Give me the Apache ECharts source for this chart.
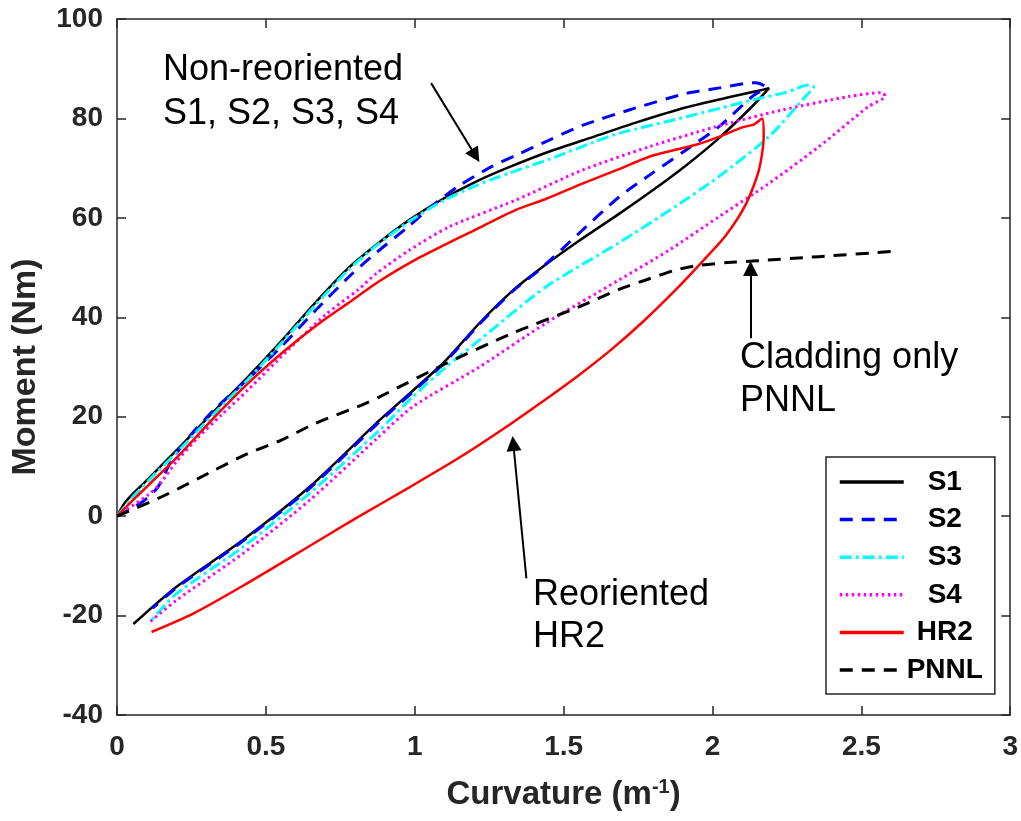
<!DOCTYPE html>
<html>
<head>
<meta charset="utf-8">
<script src="https://cdn.jsdelivr.net/npm/echarts@6/dist/echarts.min.js"></script>
<style>
  html, body { margin: 0; padding: 0; background: #fff; }
  #chart { width: 1021px; height: 821px; }
</style>
</head>
<body>
<div id="chart"></div>
<script>
// Moment–curvature loops: curvature (1/m), moment (N·m)
const seriesNames = ['S1', 'S2', 'S3', 'S4', 'HR2', 'PNNL'];

const s1 = [
  [0,0],[0.03,3],[0.105,7.5],[0.217,14.3],[0.329,21.3],[0.44,28],[0.552,35.2],[0.664,42.8],[0.775,49.8],
  [0.871,54.6],[0.982,59.6],[1.094,63.8],[1.206,67.3],[1.317,70.2],[1.45,73.3],[1.6,76.3],[1.75,79.3],
  [1.91,82.2],[2.066,84.4],[2.15,85.5],[2.19,86.1],
  [2.133,82.4],[2.021,76.0],[1.91,70.5],[1.798,65.5],[1.686,60.8],[1.552,55.4],[1.44,50.6],[1.328,45.3],
  [1.217,38.8],[1.094,30.7],[0.882,19.3],[0.647,5.9],[0.423,-4.8],[0.2,-14.2],[0.055,-21.7]
];

const s2 = [
  [0,0],[0.088,3],[0.138,5.9],[0.183,11.2],[0.25,16.5],[0.33,21.6],[0.44,27.6],[0.552,34.1],[0.664,41.2],
  [0.787,48.6],[0.871,53],[0.982,58.4],[1.06,62.5],[1.15,66.5],[1.261,70.4],[1.34,72.6],[1.45,75.6],
  [1.563,78.6],[1.72,81.7],[1.91,85.0],[2.01,86.0],[2.144,87.2],[2.178,86.3],
  [2.133,84.4],[2.021,78.3],[1.91,73.6],[1.798,69.0],[1.686,64.2],[1.552,56.9],[1.418,49.5],[1.328,45.2],
  [1.217,38.6],[1.094,30.5],[0.882,19.0],[0.647,5.6],[0.423,-5.0],[0.2,-14.4],[0.12,-18.5]
];

const s3 = [
  [0,0],[0.05,3.6],[0.105,7.1],[0.217,13.8],[0.329,20.8],[0.44,27.5],[0.552,34.8],[0.664,42.3],[0.775,49.4],
  [0.871,54.4],[0.982,59.3],[1.094,63.4],[1.206,66.5],[1.317,69.0],[1.452,71.8],[1.6,75.2],[1.686,77.0],
  [1.91,80.3],[2.133,83.7],[2.25,85.3],[2.323,86.7],[2.34,86.4],
  [2.312,84.4],[2.189,76.3],[2.021,68.3],[1.876,62.3],[1.686,55.0],[1.44,46.1],[1.217,35.4],[1.105,30.0],
  [0.993,24.0],[0.882,17.3],[0.647,4.6],[0.423,-6.2],[0.2,-15.6],[0.11,-21.3]
];

const s4 = [
  [0,0],[0.105,4.3],[0.14,6.2],[0.2,11.0],[0.272,15.8],[0.35,20.3],[0.44,25.4],[0.574,33.4],[0.7,40.5],
  [0.809,45.5],[0.871,48.8],[0.982,53.5],[1.116,58.2],[1.34,63.6],[1.563,69.6],[1.787,74.3],[2.01,78.3],
  [2.234,81.7],[2.457,84.4],[2.569,85.2],[2.58,84.5],
  [2.524,82.4],[2.357,74.3],[2.189,66.9],[2.021,60.2],[1.854,53.5],[1.686,47.5],[1.44,38.8],[1.217,30.0],
  [0.993,22.0],[0.871,15.5],[0.647,3.2],[0.423,-7.5],[0.2,-16.9],[0.11,-21.3]
];

const hr2 = [
  [0,0],[0.05,3.0],[0.105,6.2],[0.217,12.8],[0.329,20.0],[0.44,26.7],[0.552,32.7],[0.664,38.1],[0.775,42.8],
  [0.882,47.3],[1.0,51.5],[1.105,54.7],[1.2,57.5],[1.34,61.6],[1.44,63.8],[1.563,66.9],[1.686,69.8],
  [1.787,72.3],[1.87,73.6],[1.95,74.8],[2.021,76.3],[2.1,78.2],[2.14,78.8],[2.167,80.0],
  [2.172,76.3],[2.155,69.4],[2.111,62.6],[2.044,56.4],[1.966,51.2],[1.876,45.5],[1.77,39.3],[1.664,33.7],
  [1.55,28.3],[1.44,23.5],[1.328,18.8],[1.161,12.2],[0.982,5.8],[0.8,-0.5],[0.647,-6.0],[0.423,-14.0],
  [0.256,-19.6],[0.116,-23.3]
];

const pnnl = [
  [0,0],[0.161,4.2],[0.329,9.3],[0.44,12.6],[0.552,15.3],[0.664,18.6],[0.82,22.3],[0.882,24.0],[1.105,30.7],
  [1.328,36.8],[1.552,42.1],[1.686,45.6],[1.776,47.5],[1.876,49.5],[1.95,50.4],[2.05,51.0],[2.133,51.3],
  [2.357,52.2],[2.62,53.3]
];

// annotation arrows: [tail, head] in curvature/moment units
const arrows = [
  [[1.055, 87.1], [1.204, 72.5]],
  [[2.128, 35.8], [2.128, 49.8]],
  [[1.375, -12.5], [1.331, 14.6]]
];

const xTicks = { min: 0, max: 3, interval: 0.5 };
const yTicks = { min: -40, max: 100, interval: 20 };

const axisColor = '#262626';
const labelFont = { fontFamily: 'Liberation Sans, Arial, sans-serif', fontWeight: 'bold', fontSize: 28, color: axisColor };

function lineSeries(name, data, color, type, width) {
  return {
    name: name,
    type: 'line',
    data: data,
    xAxisIndex: 0,
    yAxisIndex: 0,
    symbol: 'none',
    showSymbol: false,
    smooth: 0.25,
    lineStyle: { color: color, width: width, type: type },
    itemStyle: { color: color },
    z: 3
  };
}

const chart = echarts.init(document.getElementById('chart'), null, { renderer: 'canvas' });

const frameAxis = {
  axisLine: { show: true, onZero: false, lineStyle: { color: axisColor, width: 1.5 } },
  axisTick: { show: true, inside: true, length: 9, lineStyle: { color: axisColor, width: 1.5 } },
  splitLine: { show: false }
};

const option = {
  animation: false,
  backgroundColor: '#ffffff',
  grid: { left: 117, top: 19, right: 9, bottom: 106, containLabel: false },
  xAxis: [
    Object.assign({
      type: 'value', position: 'bottom', min: xTicks.min, max: xTicks.max, interval: xTicks.interval,
      axisLabel: Object.assign({ margin: 18 }, labelFont),
      name: 'Curvature (m{sup|-1})',
      nameLocation: 'middle',
      nameGap: 62,
      nameTextStyle: {
        fontFamily: 'Liberation Sans, Arial, sans-serif', fontWeight: 'bold', fontSize: 33, color: axisColor,
        rich: {
          sup: { fontFamily: 'Liberation Sans, Arial, sans-serif', fontWeight: 'bold', fontSize: 20, color: axisColor, padding: [0, 0, 16, 0] }
        }
      }
    }, frameAxis),
    Object.assign({
      type: 'value', position: 'top', min: xTicks.min, max: xTicks.max, interval: xTicks.interval,
      axisLabel: { show: false }
    }, frameAxis)
  ],
  yAxis: [
    Object.assign({
      type: 'value', position: 'left', min: yTicks.min, max: yTicks.max, interval: yTicks.interval,
      axisLabel: Object.assign({ margin: 14 }, labelFont),
      name: 'Moment (Nm)',
      nameLocation: 'middle',
      nameGap: 74,
      nameTextStyle: { fontFamily: 'Liberation Sans, Arial, sans-serif', fontWeight: 'bold', fontSize: 34, color: axisColor }
    }, frameAxis),
    Object.assign({
      type: 'value', position: 'right', min: yTicks.min, max: yTicks.max, interval: yTicks.interval,
      axisLabel: { show: false }
    }, frameAxis)
  ],
  legend: {
    data: seriesNames,
    orient: 'vertical',
    left: 826,
    top: 457,
    padding: [11, 12, 10, 12],
    itemGap: 9.6,
    itemWidth: 64,
    itemHeight: 14,
    itemStyle: { opacity: 0 },
    lineStyle: { width: 3.5 },
    backgroundColor: '#ffffff',
    borderColor: axisColor,
    borderWidth: 1.5,
    borderRadius: 0,
    formatter: function (name) { return '{c|' + name + '}'; },
    textStyle: {
      rich: {
        c: { width: 72, align: 'center', fontFamily: 'Liberation Sans, Arial, sans-serif', fontWeight: 'bold', fontSize: 28, color: '#000', lineHeight: 28 }
      }
    }
  },
  series: [
    lineSeries('S1', s1, '#000000', 'solid', 2.5),
    lineSeries('S2', s2, '#0000ff', [13, 9], 3),
    lineSeries('S3', s3, '#00ffff', [12, 4, 3, 4], 3),
    lineSeries('S4', s4, '#ff00ff', [2.5, 3.5], 3),
    lineSeries('HR2', hr2, '#ff0000', 'solid', 2.5),
    lineSeries('PNNL', pnnl, '#000000', [13, 9], 3),
    {
      type: 'line',
      data: [],
      xAxisIndex: 0,
      yAxisIndex: 0,
      silent: true,
      markLine: {
        silent: true,
        symbol: ['none', 'triangle'],
        symbolSize: 15,
        label: { show: false },
        lineStyle: { color: '#000000', width: 2, type: 'solid' },
        data: arrows.map(function (a) {
          return [{ coord: a[0] }, { coord: a[1] }];
        })
      }
    }
  ],
  graphic: [
    {
      type: 'text', left: 163, top: 48, z: 10,
      style: { text: 'Non-reoriented\nS1, S2, S3, S4', font: '36px "Liberation Sans", Arial, sans-serif', fill: '#000', lineHeight: 44 }
    },
    {
      type: 'text', left: 740, top: 337, z: 10,
      style: { text: 'Cladding only\nPNNL', font: '36px "Liberation Sans", Arial, sans-serif', fill: '#000', lineHeight: 43 }
    },
    {
      type: 'text', left: 533, top: 574, z: 10,
      style: { text: 'Reoriented\nHR2', font: '36px "Liberation Sans", Arial, sans-serif', fill: '#000', lineHeight: 42 }
    }
  ]
};

chart.setOption(option);
</script>
</body>
</html>
